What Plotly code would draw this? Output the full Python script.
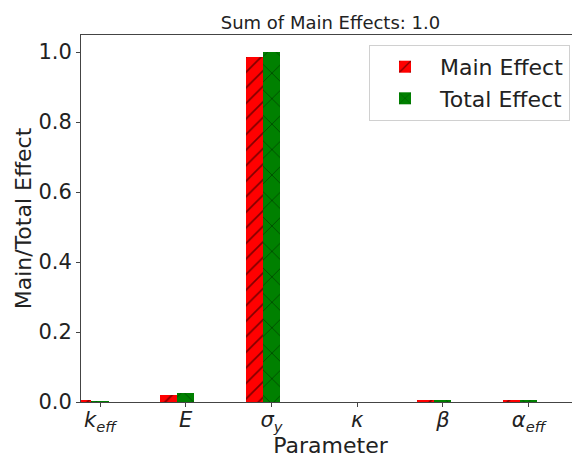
import plotly.graph_objects as go

params = ["<i>k</i><sub><i>eff</i></sub>", "<i>E</i>", "<i>σ</i><sub><i>y</i></sub>",
          "<i>κ</i>", "<i>β</i>", "<i>α</i><sub><i>eff</i></sub>"]
main_effect = [0.003, 0.020, 0.985, 0.0, 0.006, 0.004]
total_effect = [0.002, 0.027, 1.001, 0.0, 0.006, 0.006]
yticks = [0.0, 0.2, 0.4, 0.6, 0.8, 1.0]

idx = list(range(len(params)))
w = 0.2

fig = go.Figure()
fig.add_trace(go.Bar(
    x=[i - w for i in idx], y=main_effect, width=w, name="Main Effect",
    marker=dict(color="red", line=dict(width=0),
                pattern=dict(shape="/", fgcolor="black", size=11, solidity=0.15)),
))
fig.add_trace(go.Bar(
    x=idx, y=total_effect, width=w, name="Total Effect",
    marker=dict(color="green", line=dict(width=0),
                pattern=dict(shape="x", fgcolor="black", size=18, solidity=0.08)),
))

font = "DejaVu Sans"
fig.update_layout(
    width=572, height=450,
    margin=dict(l=73, r=0, t=27, b=56, autoexpand=False),
    paper_bgcolor="white", plot_bgcolor="white",
    font=dict(family=font, size=21, color="#222"),
    title=dict(text="Sum of Main Effects: 1.0", x=0.5, xref="paper", xanchor="center",
               y=1, yref="paper", yanchor="bottom", pad=dict(b=6),
               font=dict(size=18, color="#222")),
    showlegend=True,
    legend=dict(x=0.98, y=0.973, xanchor="right", yanchor="top",
                bordercolor="#d0d0d0", borderwidth=1, bgcolor="white",
                font=dict(size=22), itemwidth=60),
    bargap=0,
)
fig.update_xaxes(
    range=[-0.222, 5.6], tickvals=idx, ticktext=params, automargin=False,
    showline=True, linecolor="#444", linewidth=1, mirror=True,
    ticks="outside", ticklen=4, tickcolor="#444", showgrid=False, zeroline=False,
    ticklabelstandoff=-5,
    title=dict(text="Parameter", font=dict(size=22), standoff=0),
    tickfont=dict(size=21),
)
fig.update_yaxes(
    range=[0, 1.049], tickvals=yticks, ticktext=[f"{v:.1f}" for v in yticks], automargin=False,
    showline=True, linecolor="#444", linewidth=1, mirror=False,
    ticks="outside", ticklen=4, tickcolor="#444", showgrid=False, zeroline=False,
    title=dict(text="Main/Total Effect", font=dict(size=22), standoff=0),
    tickfont=dict(size=21),
)
fig.write_html("out.html")
